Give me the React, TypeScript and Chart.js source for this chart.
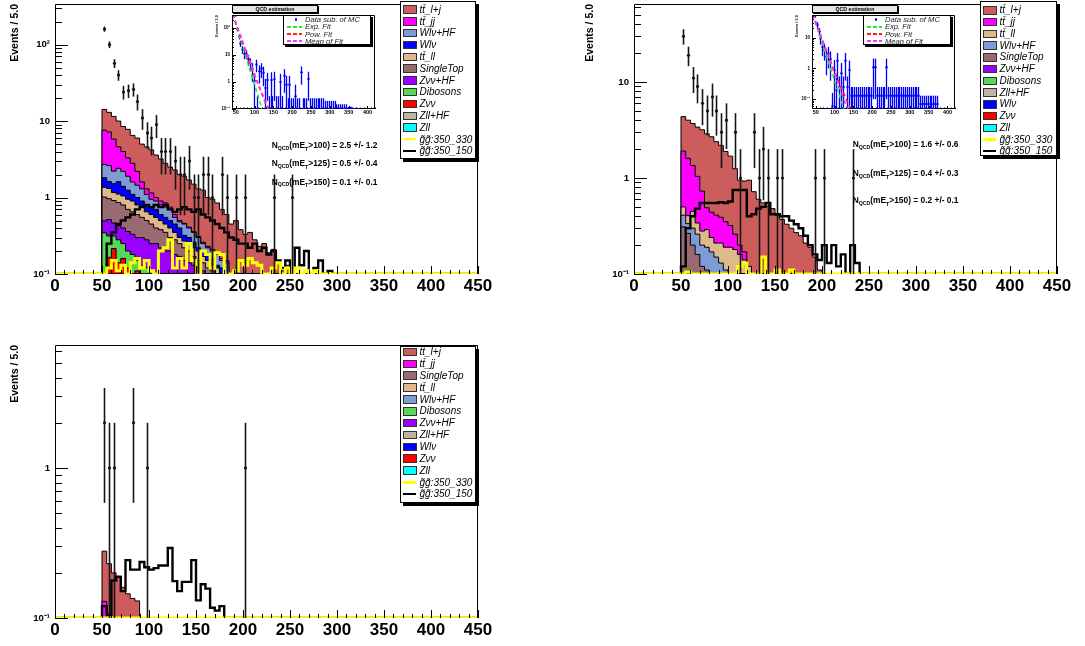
import React, { useEffect, useRef } from "react";
import { Chart, registerables } from "chart.js";

Chart.register(...registerables);

const FONT = "'Liberation Sans', Arial, Helvetica, sans-serif";
Chart.defaults.font.family = FONT;
Chart.defaults.color = "#000";

// ---------------- axes / binning ----------------
const BIN_WIDTH = 5;
const FIRST_EDGE = 50; // left edge of the first bin of every histogram array
const X_MIN = 0;
const X_MAX = 450;
const X_TICKS = [0, 50, 100, 150, 200, 250, 300, 350, 400, 450];
const INSET_X_MIN = 40;
const INSET_X_MAX = 420;
const INSET_X_TICKS = [50, 100, 150, 200, 250, 300, 350, 400];
const DECADES = [0.1, 1, 10, 100];
const DECADE_LABELS = ["10⁻¹", "1", "10", "10²"];
const Y_TITLE = "Events / 5.0";
const QCD_CUTS = [100, 125, 150];

const COLORS = {
  ttlj: "#cd5c5c",
  ttjj: "#ff00ff",
  wlvhf: "#7e9bd6",
  wlv: "#0000ff",
  ttll: "#dfb989",
  st: "#9a6a72",
  zvvhf: "#9a00ff",
  dib: "#58d858",
  zvv: "#ff0000",
  zllhf: "#bcb5a3",
  zll: "#00ffff",
  sig330: "#ffff00",
  sig150: "#000000",
};
const LABELS = {
  ttlj: "tt\u0304_l+j",
  ttjj: "tt\u0304_jj",
  ttll: "tt\u0304_ll",
  wlvhf: "Wlν+HF",
  wlv: "Wlν",
  st: "SingleTop",
  zvvhf: "Zνν+HF",
  dib: "Dibosons",
  zvv: "Zνν",
  zllhf: "Zll+HF",
  zll: "Zll",
  sig330: "g\u0303g\u0303:350_330",
  sig150: "g\u0303g\u0303:350_150",
};

// ---------------- Panel A (top left) : yields per 5 GeV bin starting at 50 ----------------
const A_zll = [0.005, 0.005, 0.005];
const A_zllhf = [0.01, 0.01, 0.01, 0.01];
const A_zvv = [0.03, 0.15, 0.2, 0.13, 0.16, 0.12, 0.1, 0.11, 0.05, 0.04, 0.03, 0.03, 0.02, 0.02, 0.02, 0.02, 0.01, 0.01, 0.01, 0.01, 0.01];
const A_dib = [0.3, 0.15, 0.1, 0.14, 0.09, 0.08, 0.08, 0.04, 0.08, 0.08, 0.08, 0.07, 0.07, 0.06, 0.05, 0.04, 0.04, 0.04, 0.03, 0.03, 0.02, 0.03, 0.02, 0.02, 0.02, 0.01, 0.01];
const A_zvvhf = [0.15, 0.2, 0.15, 0.15, 0.15, 0.16, 0.15, 0.15, 0.17, 0.16, 0.14, 0.15, 0.13, 0.12, 0.13, 0.12, 0.12, 0.1, 0.1, 0.09, 0.09, 0.08, 0.08, 0.07, 0.06, 0.06, 0.05];
const A_st = [0.52, 0.45, 0.45, 0.43, 0.4, 0.34, 0.32, 0.3, 0.25, 0.22, 0.2, 0.15, 0.16, 0.15, 0.1, 0.1, 0.08, 0.07, 0.06, 0.04, 0.03, 0.03, 0.02, 0.02, 0.02, 0.02, 0.02];
const A_ttll = [0.35, 0.35, 0.25, 0.25, 0.25, 0.25, 0.25, 0.2, 0.2, 0.15, 0.15, 0.15, 0.12, 0.1, 0.1, 0.07, 0.05, 0.05, 0.05, 0.05, 0.05, 0.03, 0.03, 0.02, 0.02, 0.01, 0.01];
const A_wlv = [0.45, 0.3, 0.35, 0.5, 0.35, 0.3, 0.2, 0.2, 0.15, 0.15, 0.15, 0.15, 0.1, 0.1, 0.1, 0.1, 0.1, 0.05, 0.05, 0.04, 0.02, 0.03, 0.03, 0.03, 0.01, 0.02, 0.01];
const A_wlvhf = [0.9, 1.0, 0.7, 0.8, 0.8, 0.65, 0.5, 0.45, 0.4, 0.3, 0.2, 0.2, 0.2, 0.2, 0.2, 0.1, 0.08, 0.13, 0.1, 0.09, 0.08, 0.05, 0.04, 0.04, 0.05, 0.03, 0.04];
const A_ttjj = [4.9, 4.6, 3.6, 2.2, 1.8, 1.4, 1.2, 0.75, 0.3, 0.2, 0.2, 0.1, 0.1, 0.1, 0.05, 0.05, 0.02, 0.01, 0.01, 0.01, 0.01, 0.01, 0.01, 0.01, 0.01, 0.01, 0.01];
const A_ttlj = [6.6, 5.8, 5.7, 5.4, 4.5, 4.5, 3.7, 3.8, 3.4, 3.3, 3.05, 2.6, 2.3, 1.95, 1.75, 1.7, 1.5, 1.44, 1.29, 1.14, 0.99, 0.99, 0.77, 0.74, 0.66, 0.54, 0.45, 0.45, 0.5, 0.38, 0.33, 0.35, 0.28, 0.23, 0.25, 0.19, 0.21, 0.14, 0.11, 0.13, 0.1, 0.07, 0.08, 0.05, 0.04];
const A_sig330 = [0, 0.12, 0.15, 0.11, 0.13, 0.1, 0.14, 0.16, 0.12, 0.15, 0.11, 0.1, 0.2, 0.22, 0.28, 0.12, 0.16, 0.12, 0.25, 0.15, 0.1, 0.2, 0.18, 0.12, 0.19, 0.18, 0.1, 0.09, 0.11, 0.15, 0.13, 0.16, 0.14, 0.13, 0.1, 0, 0.12, 0.14, 0.1, 0.12, 0.09, 0.12, 0, 0.11, 0.09, 0.11];
const A_sig150 = [0.1, 0.25, 0.35, 0.45, 0.5, 0.55, 0.6, 0.7, 0.75, 0.8, 0.75, 0.8, 0.75, 0.8, 0.7, 0.65, 0.7, 0.75, 0.7, 0.65, 0.7, 0.6, 0.55, 0.5, 0.45, 0.4, 0.35, 0.3, 0.28, 0.25, 0.25, 0.22, 0.25, 0.2, 0.22, 0.18, 0.2, 0.15, 0.12, 0.15, 0.1, 0.22, 0.13, 0.2, 0.1, 0.12, 0.15, 0.09, 0.11];
const A_dataEdges = [50, 55, 60, 65, 70, 75, 80, 85, 90, 95, 100, 105, 110, 115, 120, 125, 130, 135, 140, 145, 150, 155, 160, 165, 175, 180, 190, 200, 230, 250];
const A_dataValues = [160, 100, 57, 40, 24, 25, 26, 18, 11, 7, 6, 9, 4, 4, 4, 3, 2, 2, 3, 1, 1, 2, 2, 1, 2, 1, 1, 1, 1, 1];
const A_nqcd = [2.5, 0.5, 0.1];
const A_nqcdErr = [1.2, 0.4, 0.1];

// ---------------- Panel B (top right) ----------------
const B_zll = [0.005];
const B_zvv = [0.005, 0.005];
const B_wlv = [0.01, 0.01, 0.01];
const B_zllhf = [0.01, 0.01];
const B_dib = [0.01, 0.01, 0.01, 0.01];
const B_zvvhf = [0.02, 0.02, 0.01, 0.01];
const B_st = [0.25, 0.21, 0.17, 0.14, 0.12, 0.11, 0.1, 0.08, 0.07, 0.06, 0.05, 0.05, 0.04, 0.03, 0.03, 0.02];
const B_wlvhf = [0.1, 0.07, 0.1, 0.1, 0.08, 0.08, 0.07, 0.07, 0.06, 0.05, 0.05, 0.05, 0.04, 0.04, 0.03, 0.03];
const B_ttll = [0.09, 0.07, 0.15, 0.08, 0.08, 0.1, 0.07, 0.06, 0.08, 0.08, 0.09, 0.08, 0.08, 0.07, 0.06, 0.05];
const B_ttjj = [1.41, 1.2, 0.9, 0.7, 0.45, 0.2, 0.2, 0.2, 0.18, 0.16, 0.13, 0.08, 0.04, 0.03];
const B_ttlj = [2.45, 2.4, 2.35, 2.35, 2.45, 2.4, 2.25, 1.98, 1.8, 1.54, 1.37, 0.99, 0.75, 0.76, 0.83, 0.62, 0.6, 0.55, 0.51, 0.48, 0.41, 0.37, 0.33, 0.3, 0.27, 0.25, 0.21, 0.19, 0.15, 0.11, 0.1, 0.08, 0.06];
const B_sig330 = [0, 0.105, 0, 0, 0, 0, 0, 0, 0, 0, 0, 0, 0.12, 0.13, 0, 0, 0, 0.15, 0, 0, 0.11, 0, 0, 0.11];
const B_sig150 = [0.12, 0.3, 0.4, 0.48, 0.55, 0.55, 0.55, 0.55, 0.56, 0.55, 0.57, 0.75, 0.75, 0.75, 0.4, 0.42, 0.48, 0.5, 0.55, 0.42, 0.42, 0.4, 0.4, 0.36, 0.33, 0.3, 0.25, 0.2, 0.16, 0.14, 0.2, 0.13, 0.2, 0.12, 0.16, 0.1, 0.2, 0.13];
const B_dataEdges = [50, 55, 60, 65, 70, 75, 80, 85, 90, 95, 105, 110, 125, 130, 135, 140, 150, 155, 190, 200, 230];
const B_dataValues = [30, 19, 11, 9, 6, 5, 7, 5, 3, 4, 3, 1, 3, 1, 2, 1, 1, 1, 1, 1, 1];
const B_nqcd = [1.6, 0.4, 0.2];
const B_nqcdErr = [0.6, 0.3, 0.1];

// ---------------- Panel C (bottom left) ----------------
const C_small = [0.001];
const C_ttjj = [0.12, 0.01];
const C_ttlj = [0.15, 0.22, 0.2, 0.19, 0.16, 0.145, 0.135, 0.13, 0.1];
const C_sig330 = [];
const C_sig150 = [0.12, 0.105, 0.178, 0.188, 0.151, 0.243, 0.21, 0.21, 0.236, 0.218, 0.21, 0.215, 0.224, 0.224, 0.293, 0.176, 0.151, 0.174, 0.174, 0.243, 0.131, 0.168, 0.157, 0.117, 0.112, 0.12];
const C_dataEdges = [50, 55, 60, 80, 95, 200];
const C_dataValues = [2, 1, 1, 2, 1, 1];

// ---------------- QCD estimation insets (data minus MC, bins from 45 GeV) ----------------
const QCD_FIRST_EDGE = 45;
const QA_values = [300, 90, 48, 27, 16, 11, 11, 7, 5, 3, 1.1, 4.5, 0, 2.5, 3.2, 2.2, 0.6, 1.2, 0, 1.2, 0, 1.3, 0, 0, 1.0, 0, 1.7, 0.8, 0, 0.8, 0, 0, 0.3, 0, 0, 2.3, 0, 0, 0, 1.3, 0, 0, 0, 0, 0, 0, 0, 0, 0, 0, 0, 0, 0, 0, 0, 0, 0, 0, 0, 0, 0, 0, 0, 0, 0, 0];
const QA_errors = [30, 15, 10, 7, 5, 4, 4, 3, 2.5, 2, 1, 2.2, 0.3, 1.6, 1.8, 1.5, 0.7, 1, 0.3, 1.1, 0.3, 1.1, 0.3, 0.3, 1, 0.3, 1.3, 0.9, 0.25, 0.9, 0.25, 0.25, 0.5, 0.25, 0.25, 1.5, 0.25, 0.25, 0.25, 1.1, 0.25, 0.25, 0.25, 0.25, 0.25, 0.25, 0.25, 0.25, 0.2, 0.2, 0.2, 0.2, 0.2, 0.2, 0.15, 0.15, 0.15, 0.15, 0.15, 0.15, 0.12, 0.12, 0.12, 0.1, 0.1, 0.1];
const QB_values = [55, 26, 16, 9.5, 5, 4, 2.4, 3, 2, 0.06, 0.9, 0.2, 1.8, 0.25, 0.7, 0.25, 1.8, 0.25, 0.9, 0.13, 0.13, 0.13, 0.13, 0.13, 0.13, 0.13, 0.13, 0.13, 0.13, 0.13, 0.13, 1.1, 1.1, 0.13, 0.13, 0.13, 0.13, 0.13, 1.1, 0.13, 0.13, 0.13, 0.13, 0.13, 0.13, 0.13, 0.13, 0.13, 0.13, 0.13, 0.13, 0.13, 0.13, 0.13, 0.13, 0.13, 0.07, 0.07, 0.07, 0.07, 0.07, 0.07, 0.07, 0.07, 0.07, 0.07];
const QB_errors = [10, 6, 4.5, 3.5, 2.5, 2.2, 1.8, 2, 1.6, 0.1, 1, 0.3, 1.4, 0.3, 0.8, 0.3, 1.4, 0.3, 0.9, 0.12, 0.12, 0.12, 0.12, 0.12, 0.12, 0.12, 0.12, 0.12, 0.12, 0.12, 0.12, 1.0, 1.0, 0.12, 0.12, 0.12, 0.12, 0.12, 1.0, 0.12, 0.12, 0.12, 0.12, 0.12, 0.12, 0.12, 0.12, 0.12, 0.12, 0.12, 0.12, 0.12, 0.12, 0.12, 0.12, 0.12, 0.06, 0.06, 0.06, 0.06, 0.06, 0.06, 0.06, 0.06, 0.06, 0.06];
const QA_expX = [42, 120];
const QA_expY = [320, 0.1];
const QA_powX = [42, 63, 90, 116, 138];
const QA_powY = [330, 47, 3.6, 0.5, 0.1];
const QA_meanX = [42, 100, 134];
const QA_meanY = [325, 2, 0.1];
const QB_expX = [42, 125];
const QB_expY = [56, 0.048];
const QB_powX = [42, 98, 142];
const QB_powY = [58, 0.9, 0.048];
const QB_meanX = [42, 134];
const QB_meanY = [57, 0.048];
const FIT_COLORS = { exp: "#22ee22", pow: "#ff2020", mean: "#ff33ff", data: "#0000ff" };
const INSET_LEGEND = ["Data sub. of MC", "Exp. Fit", "Pow. Fit", "Mean of Fit"];

// ---------------- helpers ----------------
function fullBins(values) {
  const n = Math.round((X_MAX - X_MIN) / BIN_WIDTH);
  const offset = Math.round((FIRST_EDGE - X_MIN) / BIN_WIDTH);
  const out = [];
  for (let i = 0; i < n; i++) {
    const j = i - offset;
    out.push(j >= 0 && j < values.length ? values[j] : 0);
  }
  return out;
}

function stepPoints(bins, floor) {
  const pts = bins.map((v, i) => ({ x: X_MIN + i * BIN_WIDTH, y: Math.max(v, floor) }));
  pts.push({ x: X_MAX, y: Math.max(bins[bins.length - 1], floor) });
  return pts;
}

function histLine(bins, floor, color, width, fillColor) {
  return {
    data: stepPoints(bins, floor),
    stepped: "before",
    borderColor: color,
    borderWidth: width,
    backgroundColor: fillColor || "transparent",
    fill: fillColor ? "start" : false,
    pointRadius: 0,
    pointHoverRadius: 0,
    tension: 0,
    borderJoinStyle: "miter",
  };
}

function decadeLabel(v) {
  const i = DECADES.findIndex((d) => Math.abs(d - v) / d < 1e-6);
  return i >= 0 ? DECADE_LABELS[i] : "";
}

function rootFrame(o) {
  return {
    id: "rootFrame",
    beforeDatasetsDraw(chart) {
      const { ctx, chartArea: a } = chart;
      ctx.save();
      ctx.strokeStyle = "#000";
      ctx.lineWidth = 1;
      ctx.beginPath();
      ctx.moveTo(a.left, a.bottom - 0.5);
      ctx.lineTo(a.right, a.bottom - 0.5);
      ctx.stroke();
      ctx.restore();
    },
    afterDatasetsDraw(chart) {
      const { ctx, chartArea: a, scales } = chart;
      const xs = scales.x;
      const ys = scales.y;
      ctx.save();
      ctx.strokeStyle = "#000";
      ctx.lineWidth = 1;
      ctx.beginPath();
      ctx.moveTo(a.left + 0.5, a.bottom);
      ctx.lineTo(a.left + 0.5, a.top + 0.5);
      ctx.lineTo(a.right - 0.5, a.top + 0.5);
      ctx.lineTo(a.right - 0.5, a.bottom);
      ctx.stroke();
      ctx.beginPath();
      const per = Math.round(o.xMajor / o.xMinor);
      const k0 = Math.ceil(xs.min / o.xMinor - 1e-9);
      const k1 = Math.floor(xs.max / o.xMinor + 1e-9);
      for (let k = k0; k <= k1; k++) {
        const px = Math.round(xs.getPixelForValue(k * o.xMinor)) + 0.5;
        const len = k % per === 0 ? o.xMajLen : o.xMinLen;
        ctx.moveTo(px, a.bottom);
        ctx.lineTo(px, a.bottom - len);
      }
      const d0 = Math.floor(Math.log10(ys.min) + 1e-9);
      const d1 = Math.ceil(Math.log10(ys.max));
      for (let d = d0; d <= d1; d++) {
        for (let m = 1; m <= 9; m++) {
          const v = m * Math.pow(10, d);
          if (v < ys.min * 0.999 || v > ys.max * 1.001) continue;
          const py = Math.round(ys.getPixelForValue(v)) + 0.5;
          const len = m === 1 ? o.yMajLen : o.yMinLen;
          ctx.moveTo(a.left, py);
          ctx.lineTo(a.left + len, py);
        }
      }
      ctx.stroke();
      ctx.restore();
    },
  };
}

function errorBars(o) {
  const draw = (chart) => {
    const { ctx, chartArea: a, scales } = chart;
    const xs = scales.x;
    const ys = scales.y;
    const py = (v) => (v <= ys.min ? a.bottom + 2 : ys.getPixelForValue(v));
    ctx.save();
    ctx.beginPath();
    ctx.rect(a.left, a.top, a.right - a.left, a.bottom - a.top);
    ctx.clip();
    ctx.strokeStyle = o.color;
    ctx.fillStyle = o.color;
    ctx.lineWidth = o.lw;
    o.edges.forEach((e, i) => {
      const v = o.values[i];
      const err = o.errors[i];
      const cx = Math.round(xs.getPixelForValue(e + BIN_WIDTH / 2)) + 0.5;
      ctx.beginPath();
      ctx.moveTo(cx, py(v - err));
      ctx.lineTo(cx, py(v + err));
      ctx.stroke();
      ctx.beginPath();
      ctx.arc(cx, v <= ys.min ? a.bottom : py(v), o.r, 0, Math.PI * 2);
      ctx.fill();
    });
    ctx.restore();
  };
  return o.before
    ? { id: "errorBars", beforeDatasetsDraw: draw }
    : { id: "errorBars", afterDatasetsDraw: draw };
}

function makeMain(canvas, p, g) {
  let cum = fullBins([]);
  const stack = p.layers.map((l) => {
    const b = fullBins(l.values);
    cum = cum.map((c, i) => c + b[i]);
    return histLine(cum, g.yMin, "#000", 1, COLORS[l.key]);
  });
  const datasets = [
    histLine(fullBins(p.sig330), g.yMin, COLORS.sig330, 3),
    histLine(fullBins(p.sig150), g.yMin, COLORS.sig150, 2.4),
    ...stack,
  ];
  const decades = DECADES.filter((d) => d >= g.yMin * 0.999 && d <= g.yMax);
  return new Chart(canvas, {
    type: "line",
    data: { datasets },
    options: {
      responsive: false,
      maintainAspectRatio: false,
      animation: false,
      devicePixelRatio: 1,
      events: [],
      layout: { padding: { left: 0, top: g.padTop, right: g.padRight, bottom: 0 } },
      plugins: { legend: { display: false }, tooltip: { enabled: false } },
      scales: {
        x: {
          type: "linear",
          min: X_MIN,
          max: X_MAX,
          grid: { display: false, drawTicks: false },
          border: { display: false },
          ticks: { font: { size: 17, weight: "bold" }, color: "#000", padding: 2, maxRotation: 0, autoSkip: false, callback: (v) => String(v) },
          afterBuildTicks: (s) => { s.ticks = X_TICKS.map((v) => ({ value: v })); },
          afterFit: (s) => { s.height = g.xHeight; s.paddingLeft = 0; s.paddingRight = 0; },
        },
        y: {
          type: "logarithmic",
          min: g.yMin,
          max: g.yMax,
          grid: { display: false, drawTicks: false },
          border: { display: false },
          ticks: { font: { size: 9.6, weight: "bold" }, color: "#000", padding: 5, autoSkip: false, callback: (v) => decadeLabel(v) },
          afterBuildTicks: (s) => { s.ticks = decades.map((v) => ({ value: v })); },
          afterFit: (s) => { s.width = g.yWidth; s.paddingTop = 0; s.paddingBottom = 0; },
          title: { display: true, text: Y_TITLE, align: "end", color: "#000", font: { size: 10.5, weight: "bold" }, padding: { top: 8.7, bottom: 0 } },
        },
      },
    },
    plugins: [
      rootFrame({ xMajor: 50, xMinor: 10, xMajLen: 8, xMinLen: 4, yMajLen: 13, yMinLen: 7 }),
      errorBars({ edges: p.dataEdges, values: p.dataValues, errors: p.dataValues.map((v) => Math.sqrt(v)), color: "#151515", lw: 1.6, r: 1.6 }),
    ],
  });
}

function fitLine(xs, ys, color) {
  return {
    data: xs.map((x, i) => ({ x, y: ys[i] })),
    borderColor: color,
    borderWidth: 1.6,
    borderDash: [4, 3],
    pointRadius: 0,
    fill: false,
    tension: 0,
  };
}

function makeInset(canvas, q) {
  const decades = DECADES.filter((d) => d >= q.yMin * 0.999 && d <= q.yMax);
  return new Chart(canvas, {
    type: "line",
    data: {
      datasets: [
        fitLine(q.meanX, q.meanY, FIT_COLORS.mean),
        fitLine(q.powX, q.powY, FIT_COLORS.pow),
        fitLine(q.expX, q.expY, FIT_COLORS.exp),
      ],
    },
    options: {
      responsive: false,
      maintainAspectRatio: false,
      animation: false,
      devicePixelRatio: 1,
      events: [],
      layout: { padding: { left: 0, top: 10, right: 20, bottom: 0 } },
      plugins: { legend: { display: false }, tooltip: { enabled: false } },
      scales: {
        x: {
          type: "linear",
          min: INSET_X_MIN,
          max: INSET_X_MAX,
          grid: { display: false, drawTicks: false },
          border: { display: false },
          ticks: { font: { size: 5.5, weight: "bold" }, color: "#000", padding: 0, maxRotation: 0, autoSkip: false, callback: (v) => String(v) },
          afterBuildTicks: (s) => { s.ticks = INSET_X_TICKS.map((v) => ({ value: v })); },
          afterFit: (s) => { s.height = 9; s.paddingLeft = 0; s.paddingRight = 0; },
        },
        y: {
          type: "logarithmic",
          min: q.yMin,
          max: q.yMax,
          grid: { display: false, drawTicks: false },
          border: { display: false },
          ticks: { font: { size: 4.5, weight: "bold" }, color: "#000", padding: 2, autoSkip: false, callback: (v) => decadeLabel(v) },
          afterBuildTicks: (s) => { s.ticks = decades.map((v) => ({ value: v })); },
          afterFit: (s) => { s.width = 27; s.paddingTop = 0; s.paddingBottom = 0; },
          title: { display: true, text: Y_TITLE, align: "end", color: "#000", font: { size: 4, weight: "bold" }, padding: { top: 9, bottom: 0 } },
        },
      },
    },
    plugins: [
      rootFrame({ xMajor: 50, xMinor: 10, xMajLen: 3, xMinLen: 1.5, yMajLen: 4, yMinLen: 2 }),
      errorBars({ edges: q.values.map((_, i) => QCD_FIRST_EDGE + i * BIN_WIDTH), values: q.values, errors: q.errors, color: FIT_COLORS.data, lw: 1.3, r: 1.2, before: true }),
    ],
  });
}

// ---------------- overlays ----------------
function Legend({ x, y, w, h, rowTop, rowH, keys }) {
  return (
    <div style={{ position: "absolute", left: x, top: y, width: w, height: h, background: "#fff", border: "1px solid #000", boxShadow: "3px 3px 0 #000", boxSizing: "border-box" }}>
      {keys.map((k, i) => {
        const cy = rowTop + i * rowH;
        const isLine = k === "sig330" || k === "sig150";
        return (
          <React.Fragment key={k}>
            {isLine ? (
              <div style={{ position: "absolute", left: 2, top: cy - 1.2, width: 13, height: k === "sig330" ? 2.6 : 2.2, background: COLORS[k] }} />
            ) : (
              <div style={{ position: "absolute", left: 2, top: cy - 4, width: 14, height: 8.5, background: COLORS[k], border: "1px solid #333", boxSizing: "border-box" }} />
            )}
            <div style={{ position: "absolute", left: 18.5, top: cy - 5.6, height: 12, fontFamily: FONT, fontSize: 10, fontStyle: "italic", lineHeight: "12px", whiteSpace: "nowrap", color: "#000" }}>
              {LABELS[k]}
            </div>
          </React.Fragment>
        );
      })}
    </div>
  );
}

function QcdNotes({ x, ys, values, errors }) {
  return (
    <>
      {QCD_CUTS.map((cut, i) => (
        <div key={cut} style={{ position: "absolute", left: x, top: ys[i] - 6, fontFamily: FONT, fontWeight: "bold", fontSize: 8.4, lineHeight: "12px", whiteSpace: "nowrap", color: "#000" }}>
          N<span style={{ fontSize: 5.2, position: "relative", top: 1.5 }}>QCD</span>(mE<span style={{ fontSize: 5.2, position: "relative", top: 2.5 }}>T</span>&gt;{cut}) = {values[i].toFixed(1)} +/- {errors[i].toFixed(1)}
        </div>
      ))}
    </>
  );
}

function InsetDecor({ x }) {
  const colors = [FIT_COLORS.data, FIT_COLORS.exp, FIT_COLORS.pow, FIT_COLORS.mean];
  return (
    <>
      <div style={{ position: "absolute", left: x, top: 5, width: 86, height: 8, background: "#e4e4e4", border: "1px solid #000", boxShadow: "1px 1px 0 #000", boxSizing: "border-box", fontFamily: FONT, fontWeight: "bold", fontSize: 5.2, lineHeight: "6px", textAlign: "center", color: "#000" }}>
        QCD estimation
      </div>
      <div style={{ position: "absolute", left: x + 51, top: 15, width: 88, height: 30, background: "#fff", border: "1px solid #000", boxShadow: "2px 2px 0 #000", boxSizing: "border-box" }}>
        {INSET_LEGEND.map((t, i) => {
          const cy = 3.6 + i * 7.2;
          return (
            <React.Fragment key={t}>
              {i === 0 ? (
                <div style={{ position: "absolute", left: 10.5, top: cy - 1.3, width: 2.6, height: 2.6, borderRadius: 2, background: colors[i] }} />
              ) : (
                <div style={{ position: "absolute", left: 3, top: cy - 0.8, width: 15, height: 1.6, background: `repeating-linear-gradient(90deg, ${colors[i]} 0px, ${colors[i]} 4px, transparent 4px, transparent 6px)` }} />
              )}
              <div style={{ position: "absolute", left: 21, top: cy - 4.5, fontFamily: FONT, fontStyle: "italic", fontSize: 7.6, lineHeight: "9px", whiteSpace: "nowrap", color: "#222" }}>
                {t}
              </div>
            </React.Fragment>
          );
        })}
      </div>
    </>
  );
}

const LEGEND_A = ["ttlj", "ttjj", "wlvhf", "wlv", "ttll", "st", "zvvhf", "dib", "zvv", "zllhf", "zll", "sig330", "sig150"];
const LEGEND_B = ["ttlj", "ttjj", "ttll", "wlvhf", "st", "zvvhf", "dib", "zllhf", "wlv", "zvv", "zll", "sig330", "sig150"];
const LEGEND_C = ["ttlj", "ttjj", "st", "ttll", "wlvhf", "dib", "zvvhf", "zllhf", "wlv", "zvv", "zll", "sig330", "sig150"];

export default function App() {
  const refA = useRef(null);
  const refB = useRef(null);
  const refC = useRef(null);
  const refIA = useRef(null);
  const refIB = useRef(null);

  useEffect(() => {
    const panelA = {
      layers: [
        { key: "zll", values: A_zll }, { key: "zllhf", values: A_zllhf }, { key: "zvv", values: A_zvv },
        { key: "dib", values: A_dib }, { key: "zvvhf", values: A_zvvhf }, { key: "st", values: A_st },
        { key: "ttll", values: A_ttll }, { key: "wlv", values: A_wlv }, { key: "wlvhf", values: A_wlvhf },
        { key: "ttjj", values: A_ttjj }, { key: "ttlj", values: A_ttlj },
      ],
      sig330: A_sig330, sig150: A_sig150, dataEdges: A_dataEdges, dataValues: A_dataValues,
    };
    const panelB = {
      layers: [
        { key: "zll", values: B_zll }, { key: "zvv", values: B_zvv }, { key: "wlv", values: B_wlv },
        { key: "zllhf", values: B_zllhf }, { key: "dib", values: B_dib }, { key: "zvvhf", values: B_zvvhf },
        { key: "st", values: B_st }, { key: "wlvhf", values: B_wlvhf }, { key: "ttll", values: B_ttll },
        { key: "ttjj", values: B_ttjj }, { key: "ttlj", values: B_ttlj },
      ],
      sig330: B_sig330, sig150: B_sig150, dataEdges: B_dataEdges, dataValues: B_dataValues,
    };
    const panelC = {
      layers: [
        { key: "zll", values: C_small }, { key: "zvv", values: C_small }, { key: "wlv", values: C_small },
        { key: "zllhf", values: C_small }, { key: "zvvhf", values: C_small }, { key: "dib", values: C_small },
        { key: "wlvhf", values: C_small }, { key: "ttll", values: C_small }, { key: "st", values: C_small },
        { key: "ttjj", values: C_ttjj }, { key: "ttlj", values: C_ttlj },
      ],
      sig330: C_sig330, sig150: C_sig150, dataEdges: C_dataEdges, dataValues: C_dataValues,
    };
    const charts = [
      makeMain(refA.current, panelA, { yMin: 0.1, yMax: 340, padTop: 4, padRight: 62, yWidth: 55, xHeight: 26 }),
      makeMain(refB.current, panelB, { yMin: 0.1, yMax: 65, padTop: 4, padRight: 28, yWidth: 59, xHeight: 26 }),
      makeMain(refC.current, panelC, { yMin: 0.1, yMax: 6.6, padTop: 15, padRight: 62, yWidth: 55, xHeight: 28 }),
      makeInset(refIA.current, { values: QA_values, errors: QA_errors, yMin: 0.1, yMax: 305, expX: QA_expX, expY: QA_expY, powX: QA_powX, powY: QA_powY, meanX: QA_meanX, meanY: QA_meanY }),
      makeInset(refIB.current, { values: QB_values, errors: QB_errors, yMin: 0.048, yMax: 55, expX: QB_expX, expY: QB_expY, powX: QB_powX, powY: QB_powY, meanX: QB_meanX, meanY: QB_meanY }),
    ];
    return () => charts.forEach((c) => c.destroy());
  }, []);

  const cv = (left, top, w, h) => ({ position: "absolute", left, top, width: w, height: h });

  return (
    <div style={{ position: "absolute", left: 0, top: 0, width: 1085, height: 646, background: "#fff", overflow: "hidden" }}>
      <canvas ref={refA} width={540} height={300} style={cv(0, 0, 540, 300)} />
      <canvas ref={refB} width={510} height={300} style={cv(575, 0, 510, 300)} />
      <canvas ref={refC} width={540} height={316} style={cv(0, 330, 540, 316)} />
      <canvas ref={refIA} width={190} height={113} style={cv(205, 5, 190, 113)} />
      <canvas ref={refIB} width={190} height={113} style={cv(785, 5, 190, 113)} />
      <InsetDecor x={232} />
      <InsetDecor x={812} />
      <QcdNotes x={271.7} ys={[145, 163.3, 181.7]} values={A_nqcd} errors={A_nqcdErr} />
      <QcdNotes x={852.7} ys={[144, 173.3, 200]} values={B_nqcd} errors={B_nqcdErr} />
      <Legend x={400} y={1} w={76} h={158} rowTop={7.3} rowH={11.8} keys={LEGEND_A} />
      <Legend x={980} y={1} w={77} h={155} rowTop={8} rowH={11.75} keys={LEGEND_B} />
      <Legend x={400} y={346} w={76} h={157} rowTop={4.7} rowH={11.86} keys={LEGEND_C} />
    </div>
  );
}
